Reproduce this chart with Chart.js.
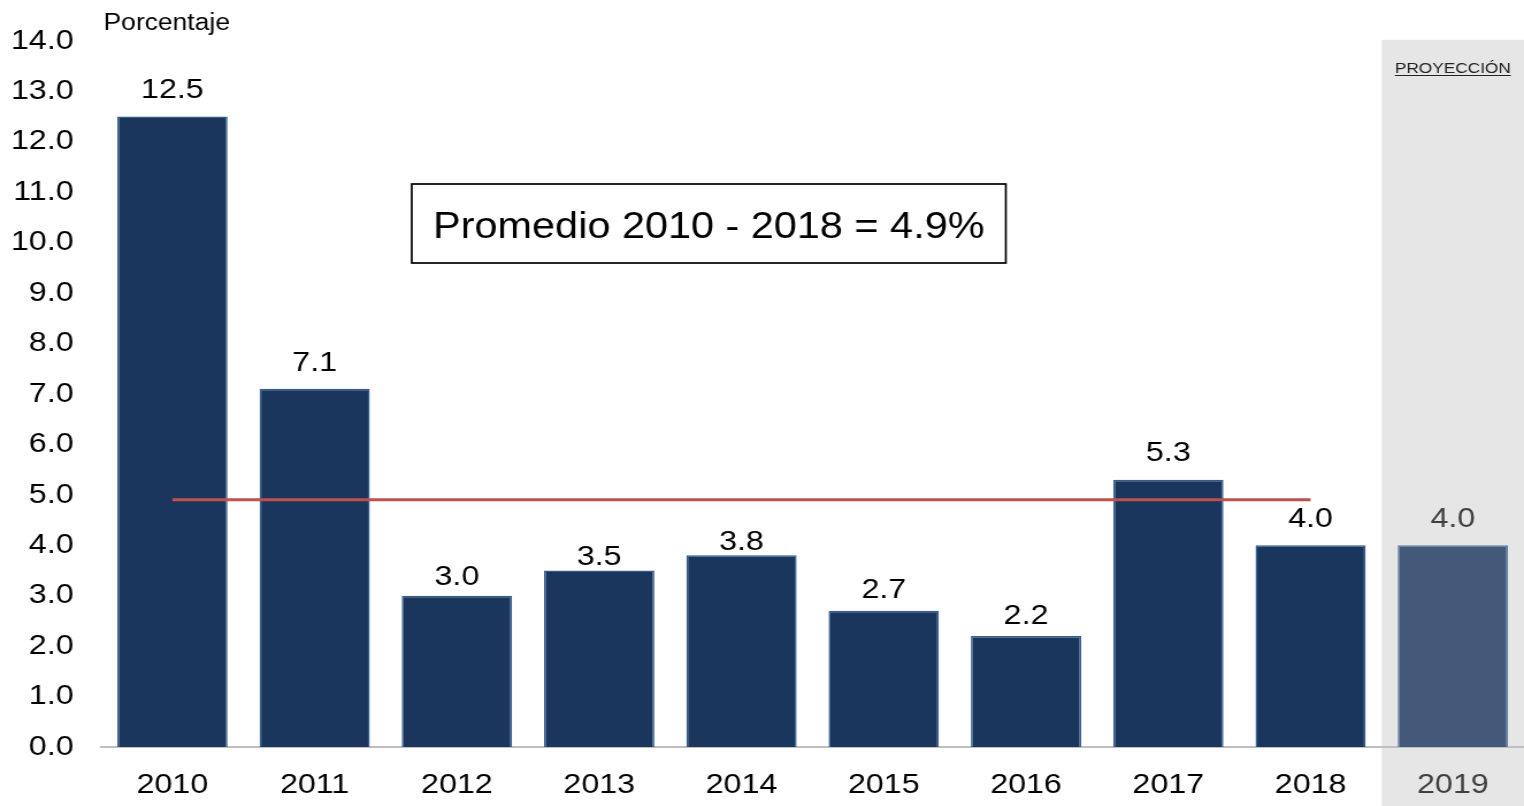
<!DOCTYPE html>
<html>
<head>
<meta charset="utf-8">
<script src="https://cdn.jsdelivr.net/npm/chart.js@4/dist/chart.umd.min.js"></script>
<style>
html,body{margin:0;padding:0;background:#fff;overflow:hidden;}
#wrap{width:1325px;height:806px;position:relative;transform:scaleX(1.150189);transform-origin:0 0;}
</style>
</head>
<body>
<div id="wrap"><canvas id="c" width="1325" height="806"></canvas></div>
<script>
const categories = ['2010','2011','2012','2013','2014','2015','2016','2017','2018','2019'];
const growth = [12.5, 7.1, 3.0, 3.5, 3.8, 2.7, 2.2, 5.3, 4.0, 4.0];
const average = [4.9, 4.9, 4.9, 4.9, 4.9, 4.9, 4.9, 4.9, 4.9, null];
const projectedIndex = [9];
const yTicks = [0,1,2,3,4,5,6,7,8,9,10,11,12,13,14];
const axisTitle = 'Porcentaje';
const boxText = 'Promedio 2010 - 2018 = 4.9%';
const projectionText = 'PROYECCIÓN';

const FONT = "'Liberation Sans', Arial, sans-serif";
const isProj = i => projectedIndex.includes(i);

const projectionPlugin = {
  id: 'projection',
  beforeDraw(chart) {
    const x = chart.scales.x, ctx = chart.ctx;
    const idx = projectedIndex[0];
    const half = (x.getPixelForValue(1) - x.getPixelForValue(0)) / 2;
    const left = x.getPixelForValue(idx) - half;
    ctx.save();
    ctx.fillStyle = '#e6e6e6';
    ctx.fillRect(left, chart.chartArea.top - 1, chart.width - left, chart.height);
    ctx.fillStyle = '#222';
    ctx.font = '15px ' + FONT;
    ctx.textAlign = 'center';
    ctx.textBaseline = 'alphabetic';
    const cx = x.getPixelForValue(idx);
    ctx.fillText(projectionText, cx, 73);
    const w = ctx.measureText(projectionText).width;
    ctx.fillRect(cx - w/2, 75, w, 1);
    ctx.restore();
  }
};

const labelsPlugin = {
  id: 'labels',
  afterDatasetsDraw(chart) {
    const ctx = chart.ctx;
    const meta = chart.getDatasetMeta(0);
    // small manual nudges of some value labels (as in the original)
    const nudge = [0, 0, 8, 13, 13, 5, 6, 0, 0, 0];
    ctx.save();
    ctx.font = '28px ' + FONT;
    ctx.textAlign = 'center';
    ctx.textBaseline = 'bottom';
    meta.data.forEach((bar, i) => {
      ctx.fillStyle = isProj(i) ? '#404040' : '#000';
      ctx.fillText(growth[i].toFixed(1), bar.x, bar.y - 12 + nudge[i]);
    });
    // axis title
    ctx.fillStyle = '#000';
    ctx.font = '23px ' + FONT;
    ctx.textAlign = 'left';
    ctx.textBaseline = 'alphabetic';
    ctx.fillText(axisTitle, 90, 30);
    // average box
    ctx.font = '36px ' + FONT;
    ctx.textAlign = 'center';
    ctx.textBaseline = 'middle';
    const bx = 358, by = 184, bw = 516.5, bh = 79;
    ctx.fillStyle = '#fff';
    ctx.fillRect(bx, by, bw, bh);
    ctx.strokeStyle = '#000';
    ctx.lineWidth = 1.7;
    ctx.strokeRect(bx, by, bw, bh);
    ctx.fillStyle = '#000';
    ctx.fillText(boxText, bx + bw/2, by + bh/2 + 5);
    ctx.restore();
  }
};

new Chart(document.getElementById('c'), {
  data: {
    labels: categories,
    datasets: [
      {
        type: 'bar',
        data: growth,
        order: 1,
        backgroundColor: growth.map((v,i) => isProj(i) ? '#44597a' : '#1b365d'),
        borderColor: growth.map((v,i) => isProj(i) ? '#5f7ca3' : '#345d8e'),
        borderWidth: 1.5,
        barPercentage: 0.775,
        categoryPercentage: 1.0
      },
      {
        type: 'line',
        data: average,
        order: 0,
        borderColor: '#c0504d',
        borderWidth: 3,
        pointRadius: 0,
        fill: false,
        spanGaps: false
      }
    ]
  },
  options: {
    responsive: false,
    animation: false,
    layout: { padding: { top: 36, right: 0, left: 0, bottom: 0 } },
    plugins: { legend: { display: false }, tooltip: { enabled: false } },
    scales: {
      x: {
        grid: { display: false, drawTicks: false },
        border: { color: '#bfbfbf', width: 2 },
        ticks: {
          font: { family: FONT, size: 28 },
          color: ctx => isProj(ctx.index) ? '#404040' : '#000',
          padding: 21
        },
        afterFit: s => { s.height = 59; }
      },
      y: {
        min: 0, max: 14,
        grid: { display: false, drawTicks: false },
        border: { display: false },
        afterBuildTicks: s => { s.ticks = yTicks.map(v => ({ value: v })); },
        ticks: {
          font: { family: FONT, size: 28 },
          color: '#000',
          padding: 24,
          callback: v => Number(v).toFixed(1)
        },
        afterFit: s => { s.width = 88; }
      }
    }
  },
  plugins: [projectionPlugin, labelsPlugin]
});
</script>
</body>
</html>
